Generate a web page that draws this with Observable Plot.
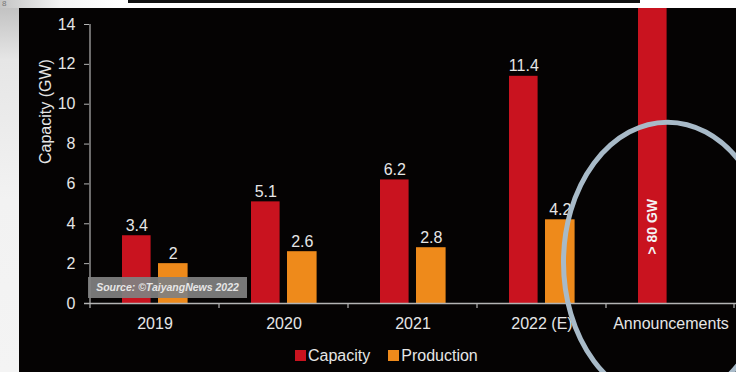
<!DOCTYPE html>
<html>
<head>
<meta charset="utf-8">
<script src="https://cdn.jsdelivr.net/npm/d3@7"></script>
<script src="https://cdn.jsdelivr.net/npm/@observablehq/plot@0.6"></script>
<style>
  html, body { margin: 0; padding: 0; }
  body { width: 736px; height: 372px; position: relative; overflow: hidden; background: #fafafa; font-family: "Liberation Sans", Arial, sans-serif; }
  #leftstrip { position: absolute; left: 0; top: 0; width: 19px; height: 372px; background: linear-gradient(#bdbdbd, #e6e6e6 60px, #f2f2f2 200px, #f4f4f4); }
  #topstrip { position: absolute; left: 0; top: 0; width: 736px; height: 8px; background: linear-gradient(90deg, #c4c4c4, #f4f4f4 60px, #ffffff 120px); }
  #topline { position: absolute; left: 128px; top: 0; width: 512px; height: 3px; background: #111; }
  #pagenum { position: absolute; left: 2px; top: 0px; font-size: 8px; line-height: 8px; color: #777; }
  #chart { position: absolute; left: 19px; top: 8px; width: 717px; height: 364px; background: #050303; overflow: hidden; }
  #chart svg { background: transparent !important; display: block; }
  #source { position: absolute; left: 69px; top: 269px; width: 159px; height: 21px; background: rgba(128,128,128,0.93); color: #e6e6e6; font-weight: bold; font-style: italic; font-size: 10.5px; line-height: 21px; text-align: center; }
  #legend { position: absolute; left: 276px; top: 331px; }
  .lg-swatches { font-family: "Liberation Sans", Arial, sans-serif; font-size: 16px; color: #e6e6e6; }
  .lg-swatch { margin-right: 18px !important; }
  .lg-swatch > svg { margin-right: 2px !important; }
</style>
</head>
<body>
<div id="leftstrip"></div>
<div id="topstrip"></div>
<div id="topline"></div>
<div id="pagenum">8</div>
<div id="chart"></div>
<script>
// ---- data ----
const categories = ["2019", "2020", "2021", "2022 (E)", "Announcements"];
const capacity = [3.4, 5.1, 6.2, 11.4, 80];
const production = [2, 2.6, 2.8, 4.2, null];
const capacityLabels = ["3.4", "5.1", "6.2", "11.4", "> 80 GW"];
const productionLabels = ["2", "2.6", "2.8", "4.2", ""];
const seriesNames = ["Capacity", "Production"];
const seriesColors = ["#c9131f", "#ee8a1b"];
const yTicks = [0, 2, 4, 6, 8, 10, 12, 14];
const yLabel = "Capacity (GW)";
const sourceText = "Source: ©TaiyangNews 2022";

const capRows = categories.map((c, i) => ({cat: c, value: capacity[i], label: capacityLabels[i], series: seriesNames[0]}));
const prodRows = categories.map((c, i) => ({cat: c, value: production[i], label: productionLabels[i], series: seriesNames[1]})).filter(d => d.value != null);
const capNormal = capRows.filter(d => d.value <= 14);
const capBig = capRows.filter(d => d.value > 14);

const font = "Liberation Sans, Arial, sans-serif";
const textColor = "#e6e6e6";
const axisColor = "#b4b4b4";

const plot = Plot.plot({
  width: 717,
  height: 364,
  marginLeft: 70,
  marginRight: 0,
  marginTop: 16,
  marginBottom: 69,
  style: {fontFamily: font, background: "transparent", color: textColor},
  x: {domain: categories, padding: 0, axis: null},
  y: {domain: [0, 14], axis: null},
  color: {domain: seriesNames, range: seriesColors},
  marks: [
    Plot.barY(capRows, {x: "cat", y: "value", fill: "series", insetLeft: 32, insetRight: 68.4}),
    Plot.barY(prodRows, {x: "cat", y: "value", fill: "series", insetLeft: 68, insetRight: 31.4}),
    Plot.text(capNormal, {x: "cat", y: "value", text: "label", dx: -18.2, dy: -5, lineAnchor: "bottom", fill: textColor, fontSize: 16}),
    Plot.text(prodRows, {x: "cat", y: "value", text: "label", dx: 18.3, dy: -5, lineAnchor: "bottom", fill: textColor, fontSize: 16}),
    Plot.text(capBig, {x: "cat", y: 3.85, text: "label", dx: -18.2, rotate: -90, fill: "#f4f4f4", fontSize: 14, fontWeight: "bold"}),
    // axes
    Plot.ruleY([0], {stroke: axisColor, strokeWidth: 1.5, insetLeft: -5}),
    Plot.axisY({ticks: yTicks, tickSize: 5, tickPadding: 9, stroke: axisColor, fill: textColor, fontSize: 16, label: null}),
    Plot.axisX({tickSize: 0, tickPadding: 14, fill: textColor, fontSize: 16, label: null}),
    Plot.text([yLabel], {frameAnchor: "left", dx: -44, rotate: -90, fill: textColor, fontSize: 16})
  ]
});

document.getElementById("chart").appendChild(plot);

// axis lines and band-boundary ticks, placed with the plot's scales
const xs = plot.scale("x");
const ys = plot.scale("y");
const svg = d3.select(plot);
const xPos = v => xs.apply(v);
const bw = xs.bandwidth;
const y0 = ys.apply(0), y14 = ys.apply(14);
svg.append("line").attr("x1", xPos(categories[0])).attr("x2", xPos(categories[0]))
  .attr("y1", y14).attr("y2", y0 + 5).attr("stroke", axisColor).attr("stroke-width", 1.2);
categories.forEach((c, i) => {
  if (i === 0) return;
  svg.append("line").attr("x1", xPos(c)).attr("x2", xPos(c)).attr("y1", y0).attr("y2", y0 + 5)
    .attr("stroke", axisColor).attr("stroke-width", 1.2);
});
svg.append("line").attr("x1", xPos(categories[4]) + bw - 1).attr("x2", xPos(categories[4]) + bw - 1)
  .attr("y1", y0).attr("y2", y0 + 5).attr("stroke", axisColor).attr("stroke-width", 1.2);

// highlight ellipse around the announcements bar
svg.append("ellipse")
  .attr("cx", xPos("Announcements") + bw / 2 - 3)
  .attr("cy", ys.apply(2.05))
  .attr("rx", 104).attr("ry", 140)
  .attr("fill", "none").attr("stroke", "#a8bac8").attr("stroke-width", 5);

// source box
const src = document.createElement("div");
src.id = "source";
src.textContent = sourceText;
document.getElementById("chart").appendChild(src);

// legend
const leg = document.createElement("div");
leg.id = "legend";
leg.appendChild(plot.legend("color", {className: "lg", swatchSize: 11}));
document.getElementById("chart").appendChild(leg);
</script>
</body>
</html>
